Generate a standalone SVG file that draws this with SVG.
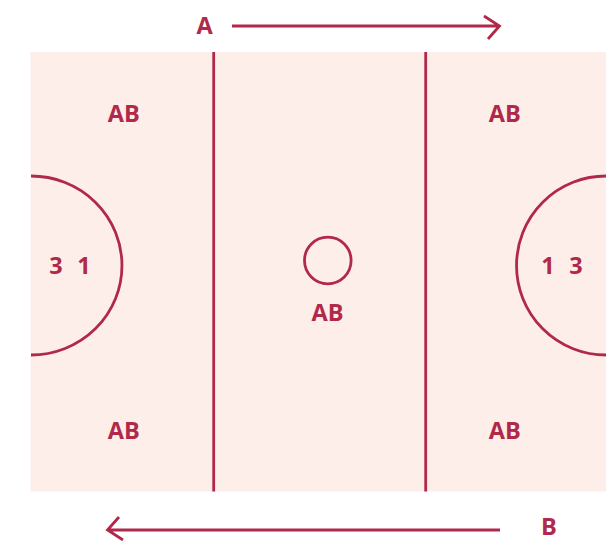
<svg xmlns="http://www.w3.org/2000/svg" width="614" height="541" viewBox="0 0 614 541">
<style>
.l{fill:none;stroke:#b0294b;stroke-width:2.8}
.t{font-family:"Open Sans","Noto Sans",sans-serif;font-weight:700;font-size:23.5px;fill:#b0294b;text-anchor:middle}
</style>
<rect width="614" height="541" fill="#fff"/>
<rect id="court" x="30.500" y="52" width="575.500" height="439.500" fill="#fdeee9"/>
<g id="connectors">
<path class="l" d="M232 26H499M484 16L499.500 26L488 39"/>
<path class="l" d="M500 530H108M119 517L107.500 530L123 540"/>
</g>
<g id="lines">
<path class="l" d="M213.700 52V491.500M425.700 52V491.500"/>
<path class="l" d="M31 176A91 89.500 0 0 1 31 355"/>
<path class="l" d="M606 176A89.500 89.500 0 0 0 606 355"/>
<circle class="l" cx="327.800" cy="260.500" r="23.300"/>
</g>
<g id="labels">
<text class="t" x="204.500" y="33.500">A</text>
<text class="t" x="549" y="535">B</text>
<text class="t" x="123.700" y="121.500">AB</text>
<text class="t" x="504.700" y="121.500">AB</text>
<text class="t" x="123.700" y="438.500">AB</text>
<text class="t" x="504.700" y="438.500">AB</text>
<text class="t" x="327.500" y="320.500">AB</text>
<text class="t" x="56" y="273.500">3</text>
<text class="t" x="84" y="273.500">1</text>
<text class="t" x="548" y="273.500">1</text>
<text class="t" x="576" y="273.500">3</text>
</g>
</svg>
